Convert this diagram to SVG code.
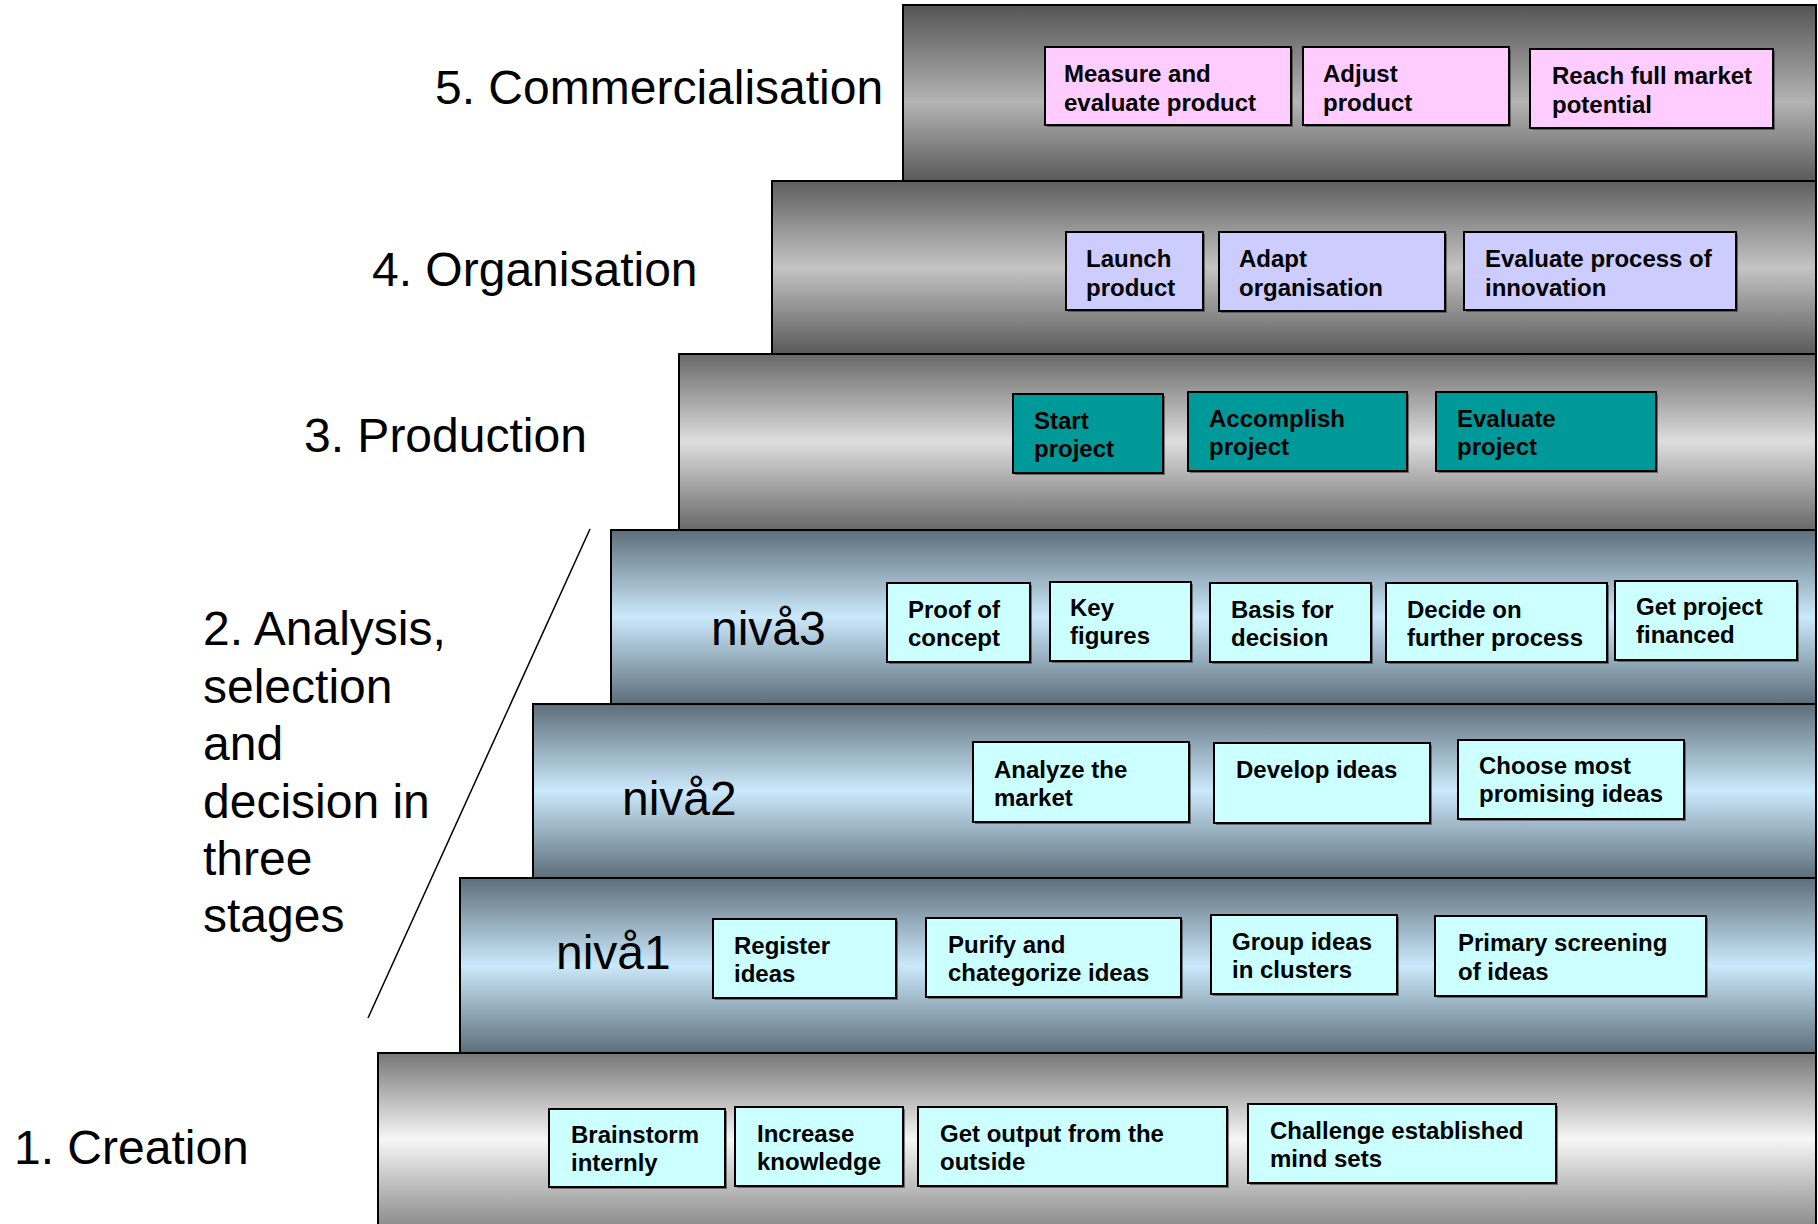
<svg xmlns="http://www.w3.org/2000/svg" width="1818" height="1224" viewBox="0 0 1818 1224">
<defs>
<linearGradient id="g5" x1="0" y1="0" x2="0" y2="1">
<stop offset="0" stop-color="#545454"/><stop offset="0.55" stop-color="#b4b4b4"/><stop offset="1" stop-color="#5a5a5a"/>
</linearGradient>
<linearGradient id="g4" x1="0" y1="0" x2="0" y2="1">
<stop offset="0" stop-color="#5e5e5e"/><stop offset="0.5" stop-color="#c4c4c4"/><stop offset="1" stop-color="#5a5a5a"/>
</linearGradient>
<linearGradient id="g3" x1="0" y1="0" x2="0" y2="1">
<stop offset="0" stop-color="#686868"/><stop offset="0.5" stop-color="#dedede"/><stop offset="1" stop-color="#686868"/>
</linearGradient>
<linearGradient id="gn" x1="0" y1="0" x2="0" y2="1">
<stop offset="0" stop-color="#5d6e7a"/><stop offset="0.5" stop-color="#cbe9fb"/><stop offset="1" stop-color="#5d6e7a"/>
</linearGradient>
<linearGradient id="g1" x1="0" y1="0" x2="0" y2="1">
<stop offset="0" stop-color="#777777"/><stop offset="0.5" stop-color="#f6f6f6"/><stop offset="1" stop-color="#8c8c8c"/>
</linearGradient>
<style>
.band{stroke:#000;stroke-width:2}
.lbl{font-family:"Liberation Sans",Arial,sans-serif;font-size:48px;fill:#000}
.bx{stroke:#000;stroke-width:2}
.sh{fill:#333;opacity:0.6}
.pink{fill:#ffccff}
.lav{fill:#ccccff}
.teal{fill:#009999}
.cyan{fill:#ccffff}
.bt{font-family:"Liberation Sans",Arial,sans-serif;font-size:24px;font-weight:bold;fill:#000}
</style>
</defs>

<g id="band5"><rect class="band" x="903" y="5" width="913" height="176" fill="url(#g5)"/></g>
<g id="band4"><rect class="band" x="772" y="181" width="1044" height="173" fill="url(#g4)"/></g>
<g id="band3"><rect class="band" x="679" y="354" width="1137" height="176" fill="url(#g3)"/></g>
<g id="niva3"><rect class="band" x="611" y="530" width="1205" height="174" fill="url(#gn)"/><text class="lbl" x="711" y="645">nivå3</text></g>
<g id="niva2"><rect class="band" x="533" y="704" width="1283" height="174" fill="url(#gn)"/><text class="lbl" x="622" y="815">nivå2</text></g>
<g id="niva1"><rect class="band" x="460" y="878" width="1356" height="175" fill="url(#gn)"/><text class="lbl" x="556" y="969">nivå1</text></g>
<g id="band1"><rect class="band" x="378" y="1053" width="1438" height="173" fill="url(#g1)"/></g>

<g id="label5"><text class="lbl" x="435" y="104">5. Commercialisation</text></g>
<g id="label4"><text class="lbl" x="372" y="286">4. Organisation</text></g>
<g id="label3"><text class="lbl" x="304" y="452">3. Production</text></g>
<g id="label2"><text class="lbl"><tspan x="203" y="645">2. Analysis,</tspan><tspan x="203" y="703">selection</tspan><tspan x="203" y="760">and</tspan><tspan x="203" y="818">decision in</tspan><tspan x="203" y="875">three</tspan><tspan x="203" y="932">stages</tspan></text></g>
<g id="label1"><text class="lbl" x="14" y="1164">1. Creation</text></g>

<g id="connectors"><line x1="590" y1="529" x2="368" y2="1018" stroke="#000" stroke-width="1.5"/></g>

<g id="box-measure"><rect class="sh" x="1047" y="49" width="246" height="78"/><rect class="bx pink" x="1045" y="47" width="246" height="78"/><text class="bt"><tspan x="1064" y="82">Measure and</tspan><tspan x="1064" y="111">evaluate product</tspan></text></g>
<g id="box-adjust"><rect class="sh" x="1305" y="49" width="206" height="78"/><rect class="bx pink" x="1303" y="47" width="206" height="78"/><text class="bt"><tspan x="1323" y="82">Adjust</tspan><tspan x="1323" y="111">product</tspan></text></g>
<g id="box-reach"><rect class="sh" x="1532" y="51" width="243" height="79"/><rect class="bx pink" x="1530" y="49" width="243" height="79"/><text class="bt"><tspan x="1552" y="84">Reach full market</tspan><tspan x="1552" y="113">potential</tspan></text></g>

<g id="box-launch"><rect class="sh" x="1068" y="234" width="137" height="78"/><rect class="bx lav" x="1066" y="232" width="137" height="78"/><text class="bt"><tspan x="1086" y="267">Launch</tspan><tspan x="1086" y="296">product</tspan></text></g>
<g id="box-adapt"><rect class="sh" x="1221" y="234" width="226" height="79"/><rect class="bx lav" x="1219" y="232" width="226" height="79"/><text class="bt"><tspan x="1239" y="267">Adapt</tspan><tspan x="1239" y="296">organisation</tspan></text></g>
<g id="box-evalprocess"><rect class="sh" x="1466" y="234" width="272" height="78"/><rect class="bx lav" x="1464" y="232" width="272" height="78"/><text class="bt"><tspan x="1485" y="267">Evaluate process of</tspan><tspan x="1485" y="296">innovation</tspan></text></g>

<g id="box-start"><rect class="sh" x="1015" y="396" width="150" height="79"/><rect class="bx teal" x="1013" y="394" width="150" height="79"/><text class="bt"><tspan x="1034" y="429">Start</tspan><tspan x="1034" y="457">project</tspan></text></g>
<g id="box-accomplish"><rect class="sh" x="1190" y="394" width="219" height="79"/><rect class="bx teal" x="1188" y="392" width="219" height="79"/><text class="bt"><tspan x="1209" y="427">Accomplish</tspan><tspan x="1209" y="455">project</tspan></text></g>
<g id="box-evalproject"><rect class="sh" x="1438" y="394" width="220" height="79"/><rect class="bx teal" x="1436" y="392" width="220" height="79"/><text class="bt"><tspan x="1457" y="427">Evaluate</tspan><tspan x="1457" y="455">project</tspan></text></g>

<g id="box-proof"><rect class="sh" x="889" y="585" width="143" height="79"/><rect class="bx cyan" x="887" y="583" width="143" height="79"/><text class="bt"><tspan x="908" y="618">Proof of</tspan><tspan x="908" y="646">concept</tspan></text></g>
<g id="box-key"><rect class="sh" x="1052" y="584" width="141" height="79"/><rect class="bx cyan" x="1050" y="582" width="141" height="79"/><text class="bt"><tspan x="1070" y="616">Key</tspan><tspan x="1070" y="644">figures</tspan></text></g>
<g id="box-basis"><rect class="sh" x="1212" y="585" width="161" height="79"/><rect class="bx cyan" x="1210" y="583" width="161" height="79"/><text class="bt"><tspan x="1231" y="618">Basis for</tspan><tspan x="1231" y="646">decision</tspan></text></g>
<g id="box-decide"><rect class="sh" x="1388" y="585" width="221" height="79"/><rect class="bx cyan" x="1386" y="583" width="221" height="79"/><text class="bt"><tspan x="1407" y="618">Decide on</tspan><tspan x="1407" y="646">further process</tspan></text></g>
<g id="box-financed"><rect class="sh" x="1617" y="583" width="182" height="79"/><rect class="bx cyan" x="1615" y="581" width="182" height="79"/><text class="bt"><tspan x="1636" y="615">Get project</tspan><tspan x="1636" y="643">financed</tspan></text></g>

<g id="box-analyze"><rect class="sh" x="975" y="744" width="216" height="80"/><rect class="bx cyan" x="973" y="742" width="216" height="80"/><text class="bt"><tspan x="994" y="778">Analyze the</tspan><tspan x="994" y="806">market</tspan></text></g>
<g id="box-develop"><rect class="sh" x="1216" y="745" width="216" height="80"/><rect class="bx cyan" x="1214" y="743" width="216" height="80"/><text class="bt" x="1236" y="778">Develop ideas</text></g>
<g id="box-choose"><rect class="sh" x="1460" y="742" width="226" height="79"/><rect class="bx cyan" x="1458" y="740" width="226" height="79"/><text class="bt"><tspan x="1479" y="774">Choose most</tspan><tspan x="1479" y="802">promising ideas</tspan></text></g>

<g id="box-register"><rect class="sh" x="715" y="921" width="183" height="79"/><rect class="bx cyan" x="713" y="919" width="183" height="79"/><text class="bt"><tspan x="734" y="954">Register</tspan><tspan x="734" y="982">ideas</tspan></text></g>
<g id="box-purify"><rect class="sh" x="928" y="920" width="255" height="79"/><rect class="bx cyan" x="926" y="918" width="255" height="79"/><text class="bt"><tspan x="948" y="953">Purify and</tspan><tspan x="948" y="981">chategorize ideas</tspan></text></g>
<g id="box-group"><rect class="sh" x="1213" y="917" width="186" height="79"/><rect class="bx cyan" x="1211" y="915" width="186" height="79"/><text class="bt"><tspan x="1232" y="950">Group ideas</tspan><tspan x="1232" y="978">in clusters</tspan></text></g>
<g id="box-primary"><rect class="sh" x="1437" y="918" width="271" height="80"/><rect class="bx cyan" x="1435" y="916" width="271" height="80"/><text class="bt"><tspan x="1458" y="951">Primary screening</tspan><tspan x="1458" y="980">of ideas</tspan></text></g>

<g id="box-brainstorm"><rect class="sh" x="551" y="1111" width="176" height="78"/><rect class="bx cyan" x="549" y="1109" width="176" height="78"/><text class="bt"><tspan x="571" y="1143">Brainstorm</tspan><tspan x="571" y="1171">internly</tspan></text></g>
<g id="box-increase"><rect class="sh" x="737" y="1109" width="168" height="79"/><rect class="bx cyan" x="735" y="1107" width="168" height="79"/><text class="bt"><tspan x="757" y="1142">Increase</tspan><tspan x="757" y="1170">knowledge</tspan></text></g>
<g id="box-getoutput"><rect class="sh" x="920" y="1109" width="309" height="79"/><rect class="bx cyan" x="918" y="1107" width="309" height="79"/><text class="bt"><tspan x="940" y="1142">Get output from the</tspan><tspan x="940" y="1170">outside</tspan></text></g>
<g id="box-challenge"><rect class="sh" x="1250" y="1106" width="308" height="79"/><rect class="bx cyan" x="1248" y="1104" width="308" height="79"/><text class="bt"><tspan x="1270" y="1139">Challenge established</tspan><tspan x="1270" y="1167">mind sets</tspan></text></g>
</svg>
